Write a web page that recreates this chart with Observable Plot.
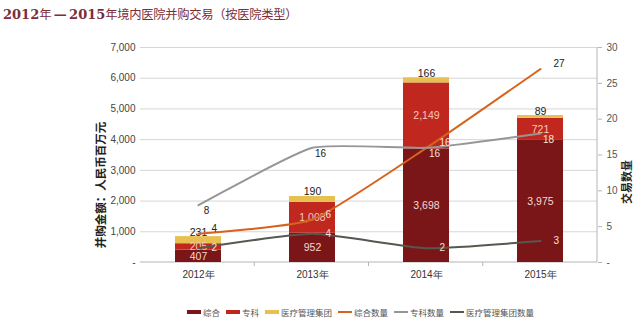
<!DOCTYPE html>
<html>
<head>
<meta charset="utf-8">
<script src="https://cdn.jsdelivr.net/npm/d3@7"></script>
<script src="https://cdn.jsdelivr.net/npm/@observablehq/plot@0.6"></script>
<style>
  html, body { margin: 0; padding: 0; background: #fff; }
  #wrap { position: relative; width: 640px; height: 323px; overflow: hidden;
          font-family: "Noto Sans CJK SC", "Noto Sans", sans-serif; }
  #title { position: absolute; left: 3px; top: 5px; font-size: 12.3px; color: #7b2d38;
           white-space: nowrap; letter-spacing: -0.3px; }
  #title b { font-family: "DejaVu Serif", "Liberation Serif", serif; font-weight: bold; font-size: 13px; letter-spacing: 0; }
  #chart { position: absolute; left: 0; top: 30px; }
  .rot { position: absolute; transform: translate(-50%, -50%) rotate(-90deg);
         white-space: nowrap; font-weight: bold; color: #222; }
  #ylab { left: 100px; top: 185px; font-size: 11.5px; }
  #y2lab { left: 626px; top: 182px; font-size: 11px; }
  #legend { position: absolute; left: 187px; top: 306px; display: flex; align-items: center;
            font-size: 8.5px; color: #555; white-space: nowrap; }
  #legend .item { display: flex; align-items: center; margin-right: 6px; }
  #legend .sw { display: inline-block; width: 14px; margin-right: 2px; }
</style>
</head>
<body>
<div id="wrap">
  <div id="title"><b>2012</b>年 <b>—</b> <b>2015</b>年境内医院并购交易（按医院类型）</div>
  <div id="chart"></div>
  <div id="ylab" class="rot">并购金额：人民币百万元</div>
  <div id="y2lab" class="rot">交易数量</div>
  <div id="legend"></div>
</div>
<script>
// ---- data ----
const years = ["2012年", "2013年", "2014年", "2015年"];
const barSeries = ["综合", "专科", "医疗管理集团"];
const zongheAmount = [407, 952, 3698, 3975];
const zhuankeAmount = [205, 1008, 2149, 721];
const jituanAmount = [231, 190, 166, 89];
const lineSeries = ["综合数量", "专科数量", "医疗管理集团数量"];
const zongheCount = [4, 6, 16, 27];
const zhuankeCount = [8, 16, 16, 18];
const jituanCount = [2, 4, 2, 3];
const leftTicks = [0, 1000, 2000, 3000, 4000, 5000, 6000, 7000];
const rightTicks = [0, 5, 10, 15, 20, 25, 30];

// ---- styles ----
const barColors = ["#7a1618", "#c0281f", "#e6c152"];
const barLabelColors = ["#f3d9d0", "#f7c9b8", "#222"];
const lineColors = ["#d8621d", "#969696", "#57574f"];
const lineLabelStyle = [
  { dx: 13, dy: -5, anchor: "start" },
  { dx: 8, dy: 6, anchor: "middle" },
  { dx: 13, dy: 0, anchor: "start" }
];

const yMax = 7000, cMax = 30, k = yMax / cMax;
const fmt = d3.format(",");

// build stacked bar rows
const amounts = [zongheAmount, zhuankeAmount, jituanAmount];
const bars = [];
years.forEach((yr, i) => {
  let acc = 0;
  amounts.forEach((arr, s) => {
    bars.push({ year: yr, type: barSeries[s], s, value: arr[i], y1: acc, y2: acc + arr[i] });
    acc += arr[i];
  });
});
const totals = years.map((_, i) => amounts.reduce((t, a) => t + a[i], 0));

const counts = [zongheCount, zhuankeCount, jituanCount];
const lines = [];
counts.forEach((arr, s) => arr.forEach((c, i) => {
  lines.push({ year: years[i], series: lineSeries[s], s, count: c, y: c * k, inside: c * k < totals[i] });
}));

const axisFrame = (index, scales, values, dims) => {
  const { width, height, marginLeft, marginRight, marginTop, marginBottom } = dims;
  const g = d3.create("svg:g");
  const xr = width - marginRight, yb = height - marginBottom;
  g.append("line").attr("x1", xr).attr("x2", xr).attr("y1", marginTop).attr("y2", yb)
    .attr("stroke", "#b5b5b5");
  g.append("line").attr("x1", marginLeft).attr("x2", xr).attr("y1", yb).attr("y2", yb)
    .attr("stroke", "#b5b5b5");
  const step = (xr - marginLeft) / years.length;
  for (let i = 1; i < years.length; i++) {
    const x = marginLeft + i * step;
    g.append("line").attr("x1", x).attr("x2", x).attr("y1", yb).attr("y2", yb + 4).attr("stroke", "#b5b5b5");
  }
  return g.node();
};

const chart = Plot.plot({
  width: 640,
  height: 257,
  marginTop: 17,
  marginBottom: 25,
  marginLeft: 140,
  marginRight: 43,
  style: { fontFamily: "'Liberation Sans', Arial, sans-serif", background: "transparent" },
  x: { domain: years, paddingInner: 0.6, paddingOuter: 0.3, axis: null },
  y: { domain: [0, yMax], axis: null },
  color: { domain: barSeries, range: barColors },
  marks: [
    Plot.ruleY(leftTicks.slice(1), { stroke: "#d6d6d6", strokeWidth: 1 }),
    Plot.axisY(leftTicks, {
      anchor: "left", tickSize: 0, tickPadding: 5, fontSize: 10, fill: "#444",
      tickFormat: d => d === 0 ? "-" : fmt(d), label: null
    }),
    Plot.axisY(rightTicks.map(v => v * k), {
      anchor: "right", tickSize: 4, tickPadding: 5, fontSize: 10, fill: "#555", stroke: "#b5b5b5",
      tickFormat: d => { const v = Math.round(d / k); return v === 0 ? "-" : String(v); }, label: null
    }),
    Plot.axisX(years, { anchor: "bottom", tickSize: 0, tickPadding: 8, fontSize: 10, fill: "#333", label: null }),
    axisFrame,
    Plot.barY(bars, { x: "year", y1: "y1", y2: "y2", fill: "type" }),
    Plot.text(bars.filter(d => d.s < 2), {
      x: "year", y: d => (d.y1 + d.y2) / 2, text: d => fmt(d.value),
      fill: d => barLabelColors[d.s], fontSize: 10.5
    }),
    Plot.text(bars.filter(d => d.s === 2), {
      x: "year", y: "y2", text: d => fmt(d.value), lineAnchor: "bottom", dy: -1,
      fill: barLabelColors[2], fontSize: 10.5
    }),
    ...lineSeries.map((name, s) =>
      Plot.line(lines.filter(d => d.s === s), {
        x: "year", y: "y", stroke: lineColors[s], strokeWidth: 2, curve: "cardinal", tension: 0.5
      })
    ),
    ...lineSeries.map((name, s) =>
      Plot.text(lines.filter(d => d.s === s), {
        x: "year", y: "y", text: d => String(d.count),
        dx: lineLabelStyle[s].dx, dy: lineLabelStyle[s].dy, textAnchor: lineLabelStyle[s].anchor,
        fill: d => d.inside ? "#f4e2dc" : "#222", fontSize: 10
      })
    )
  ]
});
document.getElementById("chart").appendChild(chart);

// legend
const legend = document.getElementById("legend");
barSeries.forEach((name, i) => {
  const it = document.createElement("span"); it.className = "item";
  it.innerHTML = `<span class="sw" style="height:4px;background:${barColors[i]}"></span>${name}`;
  legend.appendChild(it);
});
lineSeries.forEach((name, i) => {
  const it = document.createElement("span"); it.className = "item";
  it.innerHTML = `<span class="sw" style="height:2px;background:${lineColors[i]}"></span>${name}`;
  legend.appendChild(it);
});
</script>
</body>
</html>
